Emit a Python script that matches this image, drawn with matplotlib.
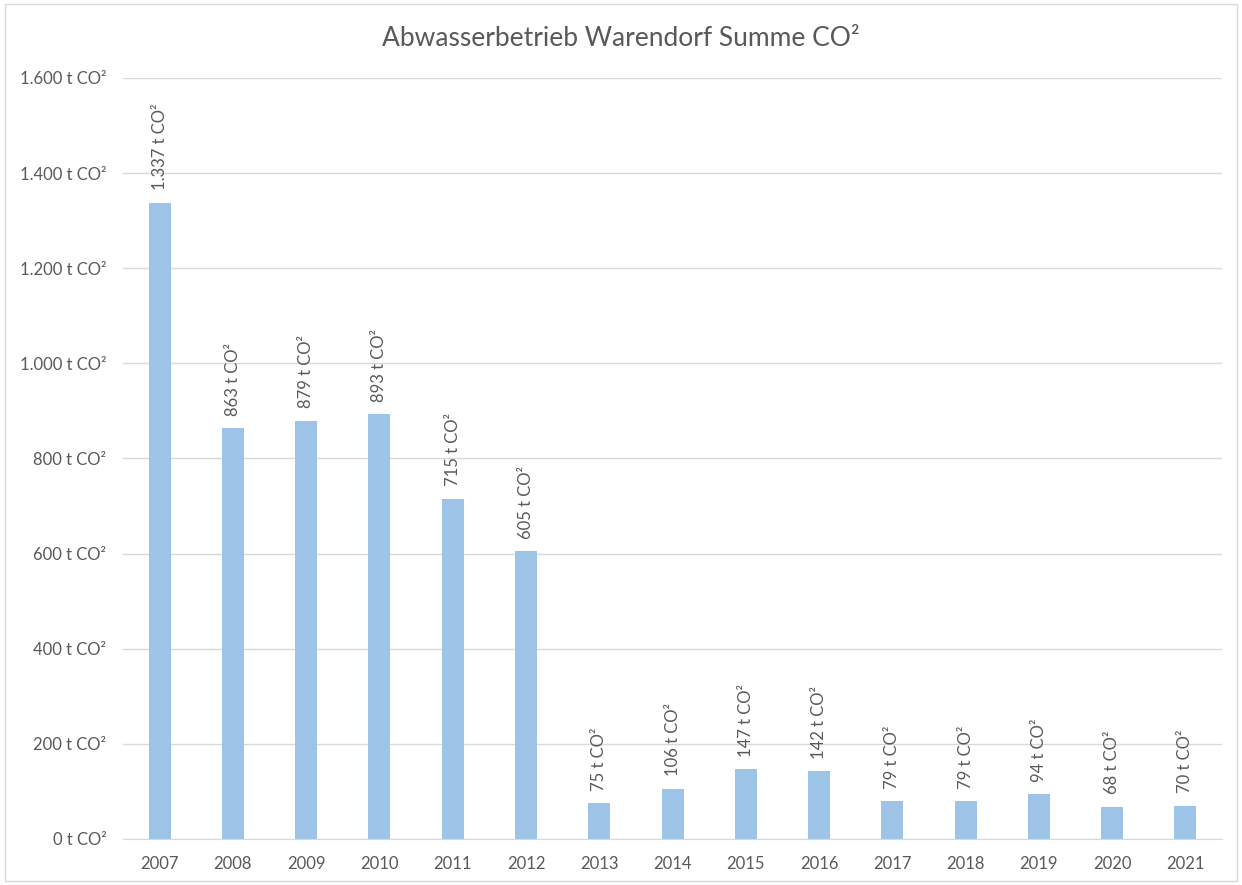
import numpy as np
import matplotlib
matplotlib.use("Agg")
import matplotlib.pyplot as plt
from matplotlib.patches import Rectangle

plt.rcParams['font.family'] = ['Lato', 'DejaVu Sans']

years = ['2007', '2008', '2009', '2010', '2011', '2012', '2013', '2014',
         '2015', '2016', '2017', '2018', '2019', '2020', '2021']
co2 = [1337, 863, 879, 893, 715, 605, 75, 106, 147, 142, 79, 79, 94, 68, 70]
yticks = [0, 200, 400, 600, 800, 1000, 1200, 1400, 1600]

txt = '#595959'

def fmt(v):
    return f"{v:,}".replace(",", ".") + " t CO²"

fig = plt.figure(figsize=(12.42, 8.85), dpi=100)
fig.patches.append(Rectangle((0.004, 0.004), 0.992, 0.992, transform=fig.transFigure,
                             fill=False, edgecolor='#D9D9D9', linewidth=1))
ax = fig.add_axes([0.099, 0.052, 0.885, 0.860])

x = np.arange(len(years))
ax.bar(x, co2, width=0.3, color='#9DC3E6', zorder=2)
for xi, v in zip(x, co2):
    ax.annotate(fmt(v), (xi, v), xytext=(0, 9), textcoords='offset points',
                rotation=90, ha='center', va='bottom', fontsize=12, color=txt)

ax.set_xlim(-0.5, len(years) - 0.5)
ax.set_ylim(0, 1600)
ax.set_yticks(yticks)
ax.set_yticklabels([fmt(v) for v in yticks])
ax.set_xticks(x)
ax.set_xticklabels(years)
ax.yaxis.grid(True, color='#D9D9D9', linewidth=1, zorder=0)
ax.set_axisbelow(True)
for s in ['top', 'right', 'left']:
    ax.spines[s].set_visible(False)
ax.spines['bottom'].set_color('#D9D9D9')
ax.tick_params(length=0, labelsize=12, colors=txt)
ax.tick_params(axis='y', pad=12)
ax.tick_params(axis='x', pad=12)

fig.text(0.5, 0.957, 'Abwasserbetrieb Warendorf Summe CO²', ha='center', va='center',
         fontsize=19, color=txt)

fig.savefig('out.png', dpi=100)
